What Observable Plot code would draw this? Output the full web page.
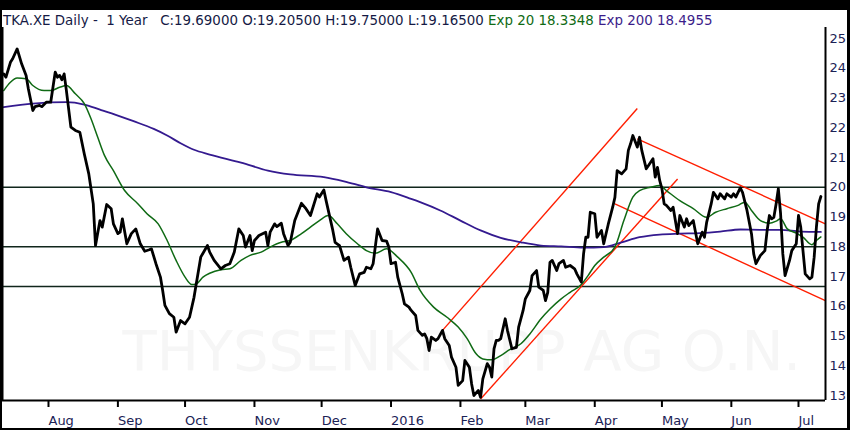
<!DOCTYPE html>
<html>
<head>
<meta charset="utf-8">
<script src="https://cdn.jsdelivr.net/npm/d3@7"></script>
<script src="https://cdn.jsdelivr.net/npm/@observablehq/plot@0.6"></script>
<style>
  html, body { margin: 0; padding: 0; background: #000; }
  #wrap { position: relative; width: 850px; height: 430px; background: #000; overflow: hidden; }
  #paper { position: absolute; left: 2px; top: 10px; width: 845px; height: 418px; background: #fff; }
  #chart { position: absolute; left: 0; top: 0; }
  #hdr { position: absolute; left: 3px; top: 14px; font-family: "DejaVu Sans", sans-serif; font-size: 13.4px; line-height: 13px; white-space: pre; color: #151a45; }
  #hdr .g { color: #0f6a14; }
  #hdr .p { color: #3b1d8a; }
</style>
</head>
<body>
<div id="wrap">
  <div id="paper"></div>
  <div id="chart"></div>
  <div id="hdr">TKA.XE Daily -  1 Year   C:19.69000 O:19.20500 H:19.75000 L:19.16500 <span class="g">Exp 20 18.3348</span> <span class="p">Exp 200 18.4955</span></div>
</div>
<script>
// ---- data ----
const closeDates = [
"2015-07-12","2015-07-13","2015-07-15","2015-07-16","2015-07-18","2015-07-20","2015-07-22","2015-07-23","2015-07-25","2015-07-26",
"2015-07-28","2015-07-29","2015-07-31","2015-08-02","2015-08-04","2015-08-05","2015-08-06","2015-08-07","2015-08-08","2015-08-09",
"2015-08-11","2015-08-13","2015-08-15","2015-08-17","2015-08-19","2015-08-21","2015-08-22","2015-08-24","2015-08-25","2015-08-27",
"2015-08-29","2015-08-30","2015-09-01","2015-09-02","2015-09-03","2015-09-05","2015-09-07","2015-09-09","2015-09-11","2015-09-13",
"2015-09-15","2015-09-16","2015-09-18","2015-09-20","2015-09-21","2015-09-22","2015-09-24","2015-09-26","2015-09-27","2015-09-29",
"2015-10-01","2015-10-03","2015-10-05","2015-10-08","2015-10-11","2015-10-12","2015-10-14","2015-10-17","2015-10-19","2015-10-21",
"2015-10-23","2015-10-25","2015-10-27","2015-10-28","2015-10-30","2015-10-31","2015-11-01","2015-11-03","2015-11-06","2015-11-07",
"2015-11-08","2015-11-10","2015-11-11","2015-11-13","2015-11-14","2015-11-16","2015-11-17","2015-11-19","2015-11-22","2015-11-24",
"2015-11-26","2015-11-29","2015-11-30","2015-12-02","2015-12-03","2015-12-06","2015-12-07","2015-12-09","2015-12-11","2015-12-13",
"2015-12-14","2015-12-16","2015-12-18","2015-12-20","2015-12-21","2015-12-23","2015-12-24","2015-12-26","2015-12-28","2015-12-30",
"2015-12-31","2016-01-01","2016-01-03","2016-01-04","2016-01-06","2016-01-07","2016-01-09","2016-01-10","2016-01-12","2016-01-13",
"2016-01-15","2016-01-16","2016-01-17","2016-01-18","2016-01-19","2016-01-21","2016-01-22","2016-01-24","2016-01-25","2016-01-27",
"2016-01-28","2016-01-30","2016-01-31","2016-02-02","2016-02-03","2016-02-05","2016-02-06","2016-02-07","2016-02-09","2016-02-10",
"2016-02-11","2016-02-13","2016-02-14","2016-02-15","2016-02-16","2016-02-17","2016-02-18","2016-02-19","2016-02-21","2016-02-22",
"2016-02-24","2016-02-26","2016-02-27","2016-02-29","2016-03-01","2016-03-03","2016-03-04","2016-03-06","2016-03-07","2016-03-09",
"2016-03-10","2016-03-11","2016-03-12","2016-03-13","2016-03-15","2016-03-16","2016-03-18","2016-03-19","2016-03-21","2016-03-23",
"2016-03-24","2016-03-26","2016-03-27","2016-03-28","2016-03-29","2016-03-30","2016-04-01","2016-04-02","2016-04-04","2016-04-05",
"2016-04-07","2016-04-09","2016-04-10","2016-04-11","2016-04-13","2016-04-15","2016-04-16","2016-04-17","2016-04-18","2016-04-20",
"2016-04-21","2016-04-22","2016-04-24","2016-04-25","2016-04-27","2016-04-28","2016-04-29","2016-04-30","2016-05-01","2016-05-02",
"2016-05-03","2016-05-05","2016-05-06","2016-05-08","2016-05-09","2016-05-11","2016-05-12","2016-05-13","2016-05-15","2016-05-17",
"2016-05-19","2016-05-20","2016-05-21","2016-05-23","2016-05-24","2016-05-26","2016-05-27","2016-05-29","2016-05-30","2016-06-01",
"2016-06-02","2016-06-03","2016-06-05","2016-06-06","2016-06-08","2016-06-10","2016-06-11","2016-06-12","2016-06-14","2016-06-16",
"2016-06-17","2016-06-18","2016-06-19","2016-06-20","2016-06-21","2016-06-22","2016-06-23","2016-06-24","2016-06-25","2016-06-27",
"2016-06-28","2016-06-30","2016-07-01","2016-07-02","2016-07-03","2016-07-04","2016-07-06","2016-07-07","2016-07-08","2016-07-09",
"2016-07-10","2016-07-11"
];
const closeValues = [
23.81,23.70,24.20,24.32,24.65,24.15,23.76,23.31,22.58,22.71,
22.75,22.71,22.86,22.86,23.87,23.70,23.76,23.61,23.81,23.25,
22.02,21.91,21.85,21.12,20.45,19.44,18.04,18.88,18.66,19.42,
19.28,18.77,18.44,18.49,18.94,18.10,18.44,18.60,18.10,17.85,
17.90,17.93,17.43,16.98,16.53,16.03,15.75,15.63,15.13,15.52,
15.41,15.63,16.30,17.65,18.04,17.82,17.54,17.26,17.37,17.43,
17.82,18.60,18.38,17.99,18.38,17.87,18.21,18.38,18.49,18.04,
18.49,18.77,18.68,18.79,18.44,18.04,18.15,18.88,19.46,19.28,
19.05,19.78,19.67,19.91,19.55,18.55,18.15,18.04,17.54,17.65,
17.31,16.70,17.09,17.14,17.31,17.26,17.43,18.60,18.21,18.19,
17.99,17.43,17.48,16.98,16.42,16.08,15.97,15.86,15.69,15.19,
15.02,15.07,14.91,14.51,14.96,14.85,14.91,15.19,14.91,14.68,
14.29,13.95,13.34,13.50,14.18,13.95,13.39,13.00,13.17,12.94,
13.56,14.07,13.95,13.62,14.57,14.85,14.85,14.91,15.58,15.19,
14.57,14.62,15.30,15.86,16.25,16.53,17.03,17.20,16.64,16.53,
16.19,16.47,17.48,17.54,17.20,17.43,17.54,17.31,17.37,17.26,
17.09,16.81,17.76,18.32,18.32,19.16,19.11,18.32,18.55,18.10,
18.75,19.33,19.66,20.56,20.45,20.62,21.24,21.46,21.74,21.35,
21.68,21.24,20.62,20.73,20.96,20.34,20.67,20.23,19.95,19.44,
19.39,19.22,19.33,18.44,19.05,18.66,18.94,18.71,18.88,18.10,
18.49,18.32,18.83,19.44,19.83,19.61,19.78,19.61,19.78,19.67,
19.78,19.67,19.98,19.83,19.22,18.44,17.76,17.43,17.71,17.87,
18.55,19.05,18.94,18.99,19.44,19.95,19.11,17.76,17.03,17.54,
17.87,18.10,19.05,18.66,17.87,17.09,16.92,16.98,17.65,18.66,
19.44,19.69
];

const ema20Dates = [
"2015-07-12","2015-07-15","2015-07-18","2015-07-22","2015-07-25","2015-07-30","2015-08-02","2015-08-06","2015-08-09","2015-08-13",
"2015-08-17","2015-08-20","2015-08-23","2015-08-26","2015-08-30","2015-09-04","2015-09-10","2015-09-14","2015-09-19","2015-09-23",
"2015-09-27","2015-10-01","2015-10-04","2015-10-06","2015-10-09","2015-10-12","2015-10-17","2015-10-21","2015-10-26","2015-10-30",
"2015-11-04","2015-11-08","2015-11-13","2015-11-17","2015-11-22","2015-11-26","2015-11-30","2015-12-04","2015-12-08","2015-12-12",
"2015-12-17","2015-12-21","2015-12-25","2015-12-30","2016-01-04","2016-01-10","2016-01-14","2016-01-20","2016-01-26","2016-01-31",
"2016-02-04","2016-02-08","2016-02-11","2016-02-15","2016-02-19","2016-02-23","2016-02-28","2016-03-03","2016-03-08","2016-03-12",
"2016-03-17","2016-03-21","2016-03-26","2016-03-29","2016-04-01","2016-04-05","2016-04-10","2016-04-14","2016-04-18","2016-04-21",
"2016-04-26","2016-04-30","2016-05-03","2016-05-09","2016-05-15","2016-05-21","2016-05-25","2016-05-30","2016-06-04","2016-06-07",
"2016-06-10","2016-06-14","2016-06-18","2016-06-21","2016-06-23","2016-06-26","2016-06-30","2016-07-03","2016-07-07","2016-07-09",
"2016-07-11"
];
const ema20Values = [
23.25,23.53,23.67,23.65,23.42,23.25,23.25,23.36,23.42,23.14,
22.81,22.30,21.68,21.07,20.56,19.89,19.44,19.11,18.77,18.21,
17.54,16.98,16.73,16.75,16.98,17.11,17.23,17.26,17.54,17.71,
17.82,17.99,18.15,18.21,18.44,18.66,18.88,19.05,18.77,18.44,
18.10,17.87,17.78,17.93,17.65,17.14,16.53,15.97,15.63,15.30,
14.91,14.40,14.23,14.20,14.34,14.54,14.74,15.07,15.58,15.91,
16.25,16.47,16.73,17.03,17.37,17.65,17.99,18.88,19.67,19.89,
20.00,20.06,19.89,19.55,19.28,18.99,19.16,19.28,19.39,19.50,
19.22,18.88,18.79,18.86,18.94,18.60,18.46,18.32,18.07,18.21,
18.33
];

const ema200Dates = [
"2015-07-12","2015-07-25","2015-08-09","2015-08-17","2015-08-24","2015-09-01","2015-09-08","2015-09-17","2015-09-23","2015-09-29",
"2015-10-05","2015-10-12","2015-10-26","2015-11-07","2015-11-17","2015-12-02","2015-12-11","2015-12-21","2016-01-01","2016-01-10",
"2016-01-14","2016-01-23","2016-02-01","2016-02-10","2016-02-19","2016-02-28","2016-03-08","2016-03-17","2016-03-27","2016-04-05",
"2016-04-13","2016-04-21","2016-04-30","2016-05-09","2016-05-18","2016-05-27","2016-06-05","2016-06-14","2016-06-23","2016-07-02",
"2016-07-11"
];
const ema200Values = [
22.69,22.81,22.86,22.78,22.61,22.41,22.22,21.96,21.74,21.48,
21.26,21.10,20.83,20.56,20.43,20.34,20.20,20.00,19.84,19.61,
19.50,19.22,18.88,18.55,18.30,18.15,18.04,18.01,17.97,17.99,
18.15,18.32,18.41,18.44,18.46,18.51,18.58,18.57,18.57,18.51,
18.50
];

// horizontal support / resistance levels
const levels = [20, 18, 16.66];

// red trend-channel lines (start/end points)
const trendStartDates  = ["2016-01-24", "2016-02-10", "2016-04-20", "2016-04-10"];
const trendStartValues = [15.19, 12.88, 21.63, 19.44];
const trendEndDates    = ["2016-04-20", "2016-05-08", "2016-07-13", "2016-07-13"];
const trendEndValues   = [22.65, 20.28, 18.77, 16.19];

const monthTicks = ["2015-08-01","2015-09-01","2015-10-01","2015-11-01","2015-12-01","2016-01-01",
                    "2016-02-01","2016-03-01","2016-04-01","2016-05-01","2016-06-01","2016-07-01"];
const monthNames = ["Jan","Feb","Mar","Apr","May","Jun","Jul","Aug","Sep","Oct","Nov","Dec"];
const yTicks = [13,14,15,16,17,18,19,20,21,22,23,24,25];

const xDomain = ["2015-07-11T11:00:00Z", "2016-07-13T01:30:00Z"];
const yDomain = [12.832, 25.37];
const watermark = ["THYSSENKRUPP AG O.N."];

// ---- build tables ----
const parse = d3.utcParse("%Y-%m-%d");
const closeData = closeDates.map((d, i) => ({date: parse(d), value: closeValues[i]}));
const ema20Data = ema20Dates.map((d, i) => ({date: parse(d), value: ema20Values[i]}));
const ema200Data = ema200Dates.map((d, i) => ({date: parse(d), value: ema200Values[i]}));
const trendData = trendStartDates.map((d, i) => ({
  x1: parse(d), y1: trendStartValues[i], x2: parse(trendEndDates[i]), y2: trendEndValues[i]
}));
const xd = xDomain.map(s => new Date(s));

const chart = Plot.plot({
  width: 850,
  height: 430,
  marginLeft: 2,
  marginRight: 25,
  marginTop: 27,
  marginBottom: 30,
  style: {background: "transparent", fontFamily: "'DejaVu Sans', sans-serif", fontSize: "13px", overflow: "visible"},
  x: {type: "utc", domain: xd, label: null},
  y: {domain: yDomain, label: null},
  marks: [
    Plot.text(watermark, {frameAnchor: "bottom-left", dx: 120, dy: -48, textAnchor: "start", lineAnchor: "middle", fontSize: 56, fill: "#f6f6f6"}),
    Plot.ruleY(levels, {stroke: "#10261c", strokeWidth: 1.5}),
    Plot.link(trendData, {x1: "x1", y1: "y1", x2: "x2", y2: "y2", stroke: "#ff1e00", strokeWidth: 1.4}),
    Plot.line(ema200Data, {x: "date", y: "value", stroke: "#341a8f", strokeWidth: 1.8, curve: "monotone-x"}),
    Plot.line(ema20Data, {x: "date", y: "value", stroke: "#0f6a14", strokeWidth: 1.5, curve: "monotone-x"}),
    Plot.line(closeData, {x: "date", y: "value", stroke: "#000", strokeWidth: 2.8, strokeLinejoin: "round"}),
    Plot.ruleX(xd, {stroke: "#000", strokeWidth: 2}),
    Plot.ruleY([yDomain[0]], {stroke: "#000", strokeWidth: 2}),
    Plot.axisX({
      ticks: monthTicks.map(parse),
      tickSize: 7, tickPadding: 8, textAnchor: "start",
      stroke: "#000", strokeWidth: 2, fill: "#1b2255", fontSize: 13, label: null,
      tickFormat: d => d.getUTCMonth() === 0 ? String(d.getUTCFullYear()) : monthNames[d.getUTCMonth()]
    }),
    Plot.axisY({
      anchor: "right", ticks: yTicks, tickSize: 0, tickPadding: 4,
      fill: "#1b2255", fontSize: 13, label: null, tickFormat: d => String(d)
    })
  ]
});
document.getElementById("chart").appendChild(chart);
</script>
</body>
</html>
